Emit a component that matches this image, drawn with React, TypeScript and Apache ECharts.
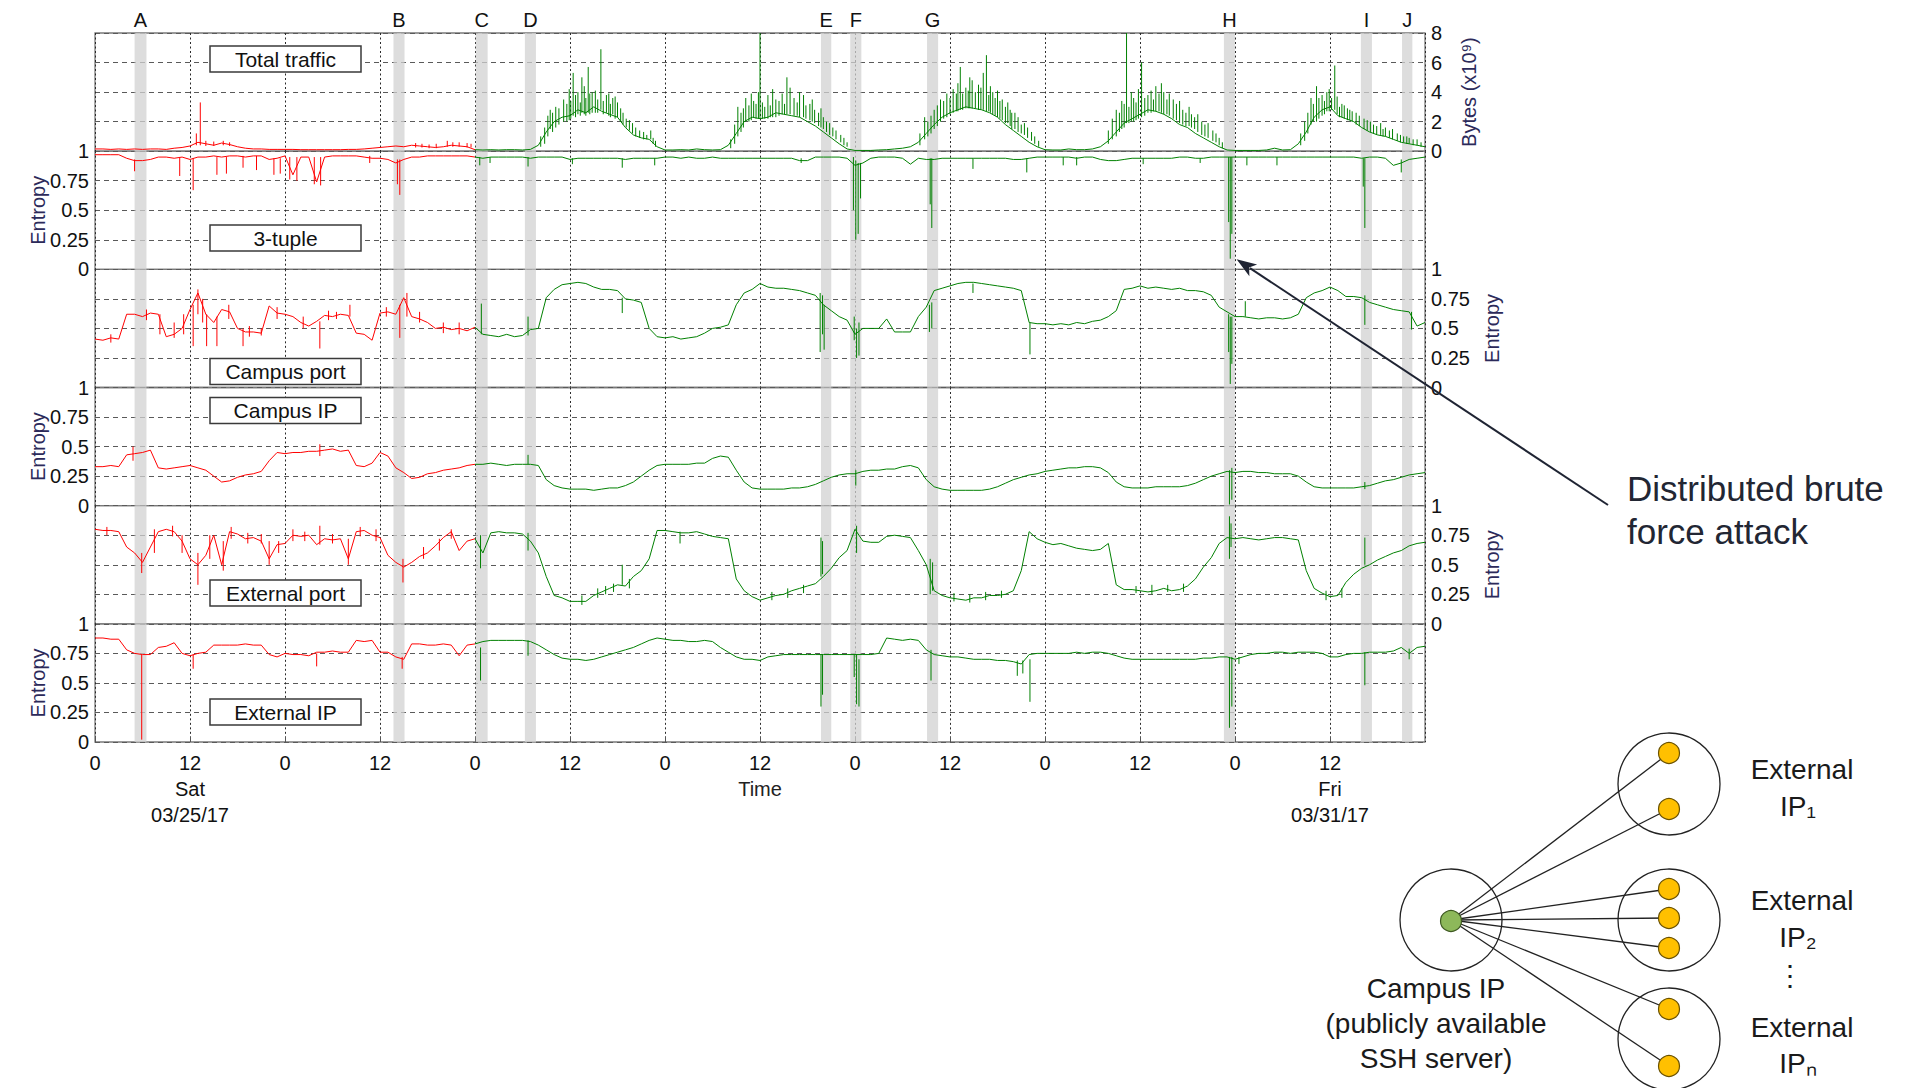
import React, { useEffect, useRef } from 'react';
import * as echarts from 'echarts';

const FONT = "'Liberation Sans', Arial, Helvetica, sans-serif";

// ---- hourly samples, t = 0 .. 168 h (Sat 03/25/17 00:00 onwards) ----
const trafficValues = [
  0.15, 0.15, 0.12, 0.15, 0.12, 0.15, 0.12, 0.15, 0.15, 0.12, 0.2, 0.25,
  0.35, 0.6, 0.5, 0.4, 0.55, 0.45, 0.3, 0.2, 0.15, 0.15, 0.12, 0.12,
  0.12, 0.12, 0.1, 0.1, 0.1, 0.1, 0.1, 0.1, 0.12, 0.12, 0.15, 0.2,
  0.25, 0.3, 0.35, 0.3, 0.4, 0.35, 0.3, 0.25, 0.3, 0.4, 0.35, 0.3,
  0.1, 0.08, 0.1, 0.08, 0.1, 0.1, 0.08, 0.12, 0.4, 1.3, 2.0, 2.3,
  2.4, 2.8, 2.6, 3.0, 2.7, 2.5, 2.3, 1.6, 1.1, 0.9, 0.8, 0.3,
  0.08, 0.08, 0.1, 0.08, 0.15, 0.1, 0.08, 0.1, 0.4, 1.2, 2.0, 2.3,
  2.2, 2.3, 2.6, 2.5, 2.4, 2.3, 2.0, 1.7, 1.3, 0.9, 0.5, 0.15,
  0.05, 0.05, 0.05, 0.08, 0.1, 0.15, 0.2, 0.3, 0.6, 1.2, 1.8, 2.3,
  2.6, 2.8, 3.0, 2.9, 2.8, 2.6, 2.3, 1.8, 1.4, 1.0, 0.6, 0.3,
  0.1, 0.08, 0.08, 0.15, 0.1, 0.1, 0.15, 0.3, 0.7, 1.3, 1.9, 2.2,
  2.5, 2.8, 2.7, 2.5, 2.2, 1.8, 1.6, 1.2, 0.9, 0.6, 0.3, 0.08,
  0.05, 0.05, 0.05, 0.05, 0.08, 0.2, 0.08, 0.1, 0.5, 1.3, 2.3, 2.8,
  3.0, 2.4, 2.2, 2.0, 1.6, 1.3, 1.1, 1.0, 0.8, 0.6, 0.5, 0.4,
  0.3,
];

const tupleValues = [
  0.97, 0.97, 0.97, 0.97, 0.94, 0.92, 0.92, 0.93, 0.95, 0.95, 0.94, 0.95,
  0.93, 0.95, 0.95, 0.96, 0.95, 0.96, 0.96, 0.95, 0.96, 0.96, 0.93, 0.94,
  0.96, 0.8, 0.95, 0.95, 0.74, 0.95, 0.96, 0.96, 0.96, 0.96, 0.95, 0.94,
  0.94, 0.93, 0.9, 0.93, 0.95, 0.95, 0.96, 0.96, 0.96, 0.96, 0.96, 0.96,
  0.95, 0.94, 0.95, 0.95, 0.95, 0.95, 0.95, 0.94, 0.95, 0.95, 0.95, 0.95,
  0.93, 0.94, 0.94, 0.94, 0.94, 0.94, 0.94, 0.93, 0.94, 0.94, 0.94, 0.94,
  0.95, 0.95, 0.94, 0.95, 0.94, 0.94, 0.95, 0.94, 0.94, 0.94, 0.94, 0.94,
  0.94, 0.94, 0.94, 0.94, 0.94, 0.92, 0.92, 0.95, 0.95, 0.95, 0.95, 0.94,
  0.88, 0.9, 0.94, 0.95, 0.95, 0.95, 0.94, 0.89, 0.94, 0.93, 0.93, 0.94,
  0.94, 0.94, 0.94, 0.94, 0.94, 0.94, 0.94, 0.94, 0.93, 0.93, 0.94, 0.95,
  0.95, 0.95, 0.95, 0.95, 0.94, 0.95, 0.95, 0.93, 0.92, 0.92, 0.93, 0.94,
  0.94, 0.94, 0.94, 0.94, 0.94, 0.95, 0.95, 0.94, 0.94, 0.95, 0.95, 0.95,
  0.95, 0.95, 0.95, 0.95, 0.95, 0.95, 0.95, 0.95, 0.95, 0.95, 0.95, 0.95,
  0.95, 0.95, 0.95, 0.95, 0.94, 0.95, 0.95, 0.94, 0.88, 0.9, 0.93, 0.94,
  0.95,
];

const campusPortValues = [
  0.41, 0.4, 0.42, 0.41, 0.62, 0.62, 0.6, 0.63, 0.62, 0.43, 0.45, 0.5,
  0.66, 0.8, 0.62, 0.55, 0.66, 0.64, 0.5, 0.47, 0.47, 0.46, 0.69, 0.63,
  0.62, 0.6, 0.55, 0.52, 0.56, 0.61, 0.6, 0.62, 0.61, 0.46, 0.45, 0.4,
  0.63, 0.64, 0.62, 0.76, 0.6, 0.58, 0.55, 0.5, 0.51, 0.49, 0.5, 0.48,
  0.51, 0.45, 0.44, 0.43, 0.45, 0.43, 0.44, 0.49, 0.5, 0.76, 0.83, 0.87,
  0.88, 0.89, 0.88, 0.85, 0.83, 0.83, 0.82, 0.75, 0.74, 0.72, 0.5, 0.43,
  0.42, 0.43, 0.41, 0.42, 0.43, 0.46, 0.5, 0.51, 0.53, 0.7, 0.8, 0.83,
  0.88, 0.85, 0.84, 0.84, 0.83, 0.82, 0.8, 0.78, 0.7, 0.65, 0.6, 0.57,
  0.45, 0.5, 0.5, 0.5, 0.58, 0.47, 0.47, 0.47, 0.6, 0.68, 0.82, 0.84,
  0.86, 0.88, 0.89, 0.89, 0.88, 0.87, 0.86, 0.85, 0.84, 0.82, 0.55, 0.54,
  0.54, 0.53, 0.54, 0.53, 0.55, 0.54, 0.56, 0.57, 0.6, 0.65, 0.83, 0.84,
  0.86, 0.84, 0.85, 0.84, 0.83, 0.84, 0.82, 0.82, 0.81, 0.78, 0.68, 0.64,
  0.6, 0.6, 0.59, 0.58, 0.59, 0.59, 0.58, 0.59, 0.62, 0.76, 0.8, 0.82,
  0.85, 0.82, 0.77, 0.77, 0.76, 0.72, 0.7, 0.68, 0.66, 0.65, 0.64, 0.52,
  0.55,
];

const campusIpValues = [
  0.33, 0.33, 0.34, 0.33, 0.43, 0.44, 0.45, 0.47, 0.32, 0.31, 0.32, 0.33,
  0.34, 0.32, 0.3, 0.25, 0.2, 0.21, 0.24, 0.26, 0.27, 0.29, 0.38, 0.45,
  0.44, 0.45, 0.45, 0.46, 0.46, 0.47, 0.48, 0.46, 0.47, 0.34, 0.33, 0.36,
  0.45, 0.42, 0.32, 0.28, 0.23, 0.24, 0.27, 0.28, 0.3, 0.31, 0.32, 0.34,
  0.35, 0.35, 0.36, 0.35, 0.34, 0.35, 0.35, 0.35, 0.34, 0.22, 0.17, 0.15,
  0.14, 0.14, 0.14, 0.13, 0.14, 0.15, 0.15, 0.17, 0.2, 0.25, 0.3, 0.34,
  0.35, 0.35, 0.35, 0.35, 0.36, 0.36, 0.4, 0.42, 0.41, 0.3, 0.2, 0.15,
  0.14, 0.14, 0.14, 0.14, 0.15, 0.15, 0.16, 0.18, 0.21, 0.24, 0.26, 0.27,
  0.27, 0.29, 0.3, 0.3, 0.31, 0.31, 0.33, 0.34, 0.32, 0.22, 0.16, 0.14,
  0.13, 0.13, 0.13, 0.13, 0.13, 0.14, 0.16, 0.19, 0.22, 0.24, 0.26, 0.27,
  0.29, 0.3, 0.31, 0.32, 0.32, 0.33, 0.33, 0.32, 0.28, 0.2, 0.16, 0.15,
  0.15, 0.15, 0.16, 0.16, 0.16, 0.16, 0.17, 0.19, 0.22, 0.25, 0.27, 0.29,
  0.28, 0.29, 0.29, 0.28, 0.28, 0.27, 0.27, 0.27, 0.25, 0.2, 0.16, 0.15,
  0.15, 0.15, 0.15, 0.15, 0.16, 0.17, 0.19, 0.21, 0.22, 0.24, 0.26, 0.27,
  0.28,
];

const externalPortValues = [
  0.8, 0.79, 0.79, 0.78, 0.65, 0.6, 0.52, 0.65, 0.78, 0.8, 0.78, 0.7,
  0.55, 0.5, 0.58, 0.75, 0.5, 0.78, 0.76, 0.72, 0.73, 0.7, 0.55, 0.67,
  0.68, 0.75, 0.74, 0.75, 0.67, 0.72, 0.71, 0.72, 0.55, 0.78, 0.79, 0.75,
  0.73, 0.58, 0.52, 0.48, 0.52, 0.57, 0.6, 0.66, 0.73, 0.78, 0.62, 0.7,
  0.72, 0.6, 0.77, 0.78, 0.77, 0.77, 0.76, 0.7, 0.6, 0.4, 0.24, 0.22,
  0.19, 0.19, 0.19, 0.24, 0.27, 0.3, 0.33, 0.32, 0.4, 0.45, 0.55, 0.79,
  0.79, 0.78, 0.77, 0.77, 0.78, 0.76, 0.74, 0.73, 0.72, 0.38, 0.28, 0.23,
  0.2, 0.22, 0.24, 0.25, 0.28, 0.3, 0.32, 0.34, 0.4, 0.47, 0.56, 0.62,
  0.8, 0.7, 0.69, 0.69, 0.74, 0.75, 0.74, 0.73, 0.62, 0.5, 0.28, 0.24,
  0.22, 0.21, 0.2, 0.22, 0.22, 0.24, 0.24, 0.25, 0.28, 0.45, 0.78, 0.72,
  0.69, 0.67, 0.68, 0.66, 0.64, 0.63, 0.62, 0.63, 0.68, 0.33, 0.29, 0.29,
  0.28, 0.27, 0.28, 0.3, 0.28, 0.29, 0.32, 0.38, 0.48, 0.56, 0.68, 0.73,
  0.72, 0.73, 0.72, 0.71, 0.72, 0.73, 0.73, 0.72, 0.71, 0.45, 0.3, 0.26,
  0.23, 0.24, 0.35, 0.42, 0.47, 0.5, 0.54, 0.57, 0.6, 0.62, 0.66, 0.68,
  0.69,
];

const externalIpValues = [
  0.88, 0.88, 0.87, 0.87, 0.78, 0.75, 0.74, 0.74, 0.8, 0.81, 0.84, 0.75,
  0.73, 0.75, 0.76, 0.82, 0.82, 0.82, 0.82, 0.83, 0.82, 0.82, 0.74, 0.72,
  0.75, 0.74, 0.74, 0.73, 0.76, 0.76, 0.77, 0.76, 0.76, 0.86, 0.85, 0.86,
  0.76, 0.76, 0.72, 0.7, 0.83, 0.83, 0.82, 0.82, 0.83, 0.82, 0.73, 0.82,
  0.83, 0.85, 0.86, 0.86, 0.86, 0.86, 0.86, 0.85, 0.82, 0.78, 0.74, 0.71,
  0.7, 0.7, 0.69, 0.7, 0.72, 0.74, 0.76, 0.78, 0.8, 0.83, 0.86, 0.88,
  0.87, 0.86, 0.86, 0.85, 0.85, 0.86, 0.85, 0.8, 0.76, 0.72, 0.7, 0.7,
  0.69, 0.72, 0.73, 0.74, 0.74, 0.74, 0.74, 0.74, 0.74, 0.74, 0.74, 0.74,
  0.74, 0.74, 0.74, 0.75, 0.88, 0.87, 0.86, 0.87, 0.86, 0.78, 0.74, 0.73,
  0.72, 0.72, 0.71, 0.7, 0.7, 0.7, 0.69, 0.69, 0.68, 0.66, 0.74, 0.75,
  0.75, 0.75, 0.75, 0.75, 0.76, 0.75, 0.76, 0.76, 0.75, 0.73, 0.71, 0.7,
  0.7, 0.7, 0.7, 0.7, 0.7, 0.7, 0.7, 0.7, 0.71, 0.71, 0.72, 0.72,
  0.7, 0.72, 0.74, 0.75, 0.75, 0.76, 0.76, 0.75, 0.76, 0.76, 0.76, 0.75,
  0.72, 0.72, 0.74, 0.75, 0.75, 0.76, 0.76, 0.76, 0.77, 0.8, 0.75, 0.8,
  0.81,
];

// ---- short spikes / fluctuations: [hour, low, high] ----
const trafficSpikes = [
  [12.8, 0.4, 1.2], [13.3, 0.4, 3.3], [14.0, 0.35, 0.7], [15.0, 0.35, 0.65], [16.2, 0.4, 0.7], [17.0, 0.35, 0.6],
  [40.5, 0.25, 0.55], [41.3, 0.25, 0.5], [42.2, 0.2, 0.45], [43.1, 0.2, 0.5], [44.5, 0.3, 0.7], [45.2, 0.3, 0.6],
  [46.0, 0.3, 0.6], [47.0, 0.25, 0.55], [47.5, 0.25, 0.5],
  // Mon
  [56.3, 0.3, 1.0], [56.8, 0.5, 1.6], [57.2, 1.0, 2.4], [57.5, 1.5, 2.8], [57.8, 1.3, 2.6], [58.2, 1.6, 3.0],
  [58.6, 1.8, 2.9], [59.2, 2.0, 3.5], [59.6, 2.0, 3.2], [59.9, 2.1, 4.2], [60.1, 2.2, 3.4], [60.4, 2.4, 5.3],
  [60.7, 2.3, 3.8], [61.0, 2.5, 4.0], [61.3, 2.4, 3.3], [61.5, 2.6, 5.0], [61.8, 2.5, 4.4], [62.0, 2.4, 3.6],
  [62.3, 2.6, 5.7], [62.5, 2.5, 3.9], [62.8, 2.6, 4.0], [63.2, 2.6, 4.1], [63.5, 2.6, 3.5], [63.9, 2.8, 6.9],
  [64.2, 2.5, 3.4], [64.6, 2.6, 3.8], [64.9, 2.4, 3.9], [65.1, 2.3, 3.2], [65.4, 2.5, 3.6], [65.7, 2.2, 3.7],
  [66.0, 2.3, 3.3], [66.4, 2.0, 2.9], [66.7, 1.8, 2.6], [67.1, 1.6, 2.2], [67.5, 1.4, 2.1], [67.9, 1.2, 1.9],
  [68.3, 1.0, 1.6], [68.8, 0.9, 1.4], [69.3, 0.8, 1.3], [69.7, 0.8, 1.1], [70.2, 0.8, 1.4], [70.5, 0.5, 0.9],
  [70.8, 0.3, 0.7],
  // Tue
  [80.3, 0.2, 0.8], [80.8, 0.5, 1.8], [81.2, 1.0, 3.0], [81.6, 1.3, 2.6], [81.9, 1.6, 2.9], [82.2, 2.0, 3.6],
  [82.6, 2.0, 3.1], [82.9, 2.1, 3.9], [83.2, 2.3, 3.4], [83.5, 2.2, 3.2], [83.8, 2.2, 4.0], [84.0, 2.2, 8.0],
  [84.3, 2.2, 3.3], [84.6, 2.2, 3.0], [85.0, 2.2, 3.8], [85.3, 2.3, 3.1], [85.6, 2.3, 4.2], [86.0, 2.3, 3.5],
  [86.4, 2.4, 3.4], [86.8, 2.5, 3.9], [87.1, 2.5, 3.2], [87.4, 2.5, 5.0], [87.8, 2.5, 4.3], [88.3, 2.4, 3.6],
  [88.7, 2.4, 3.3], [89.0, 2.3, 4.0], [89.5, 2.3, 3.8], [89.8, 2.2, 3.1], [90.3, 2.1, 3.2], [90.6, 2.0, 3.5],
  [90.9, 1.9, 2.8], [91.4, 1.7, 2.6], [91.7, 1.6, 2.9], [92.0, 1.5, 2.3], [92.4, 1.3, 2.0], [92.8, 1.1, 1.9],
  [93.2, 1.0, 1.6], [93.6, 0.8, 1.4], [94.2, 0.6, 1.1], [94.6, 0.4, 0.9], [95.0, 0.3, 0.6],
  // Wed
  [104.2, 0.4, 1.2], [104.8, 0.8, 2.3], [105.2, 1.0, 2.0], [105.6, 1.2, 2.4], [106.0, 1.5, 2.8], [106.4, 1.7, 3.1],
  [106.8, 2.0, 3.5], [107.2, 2.2, 3.4], [107.6, 2.3, 3.9], [108.0, 2.5, 3.6], [108.4, 2.6, 4.2], [108.8, 2.7, 3.9],
  [109.0, 2.7, 4.6], [109.3, 2.8, 5.7], [109.6, 2.8, 3.9], [110.0, 2.9, 4.3], [110.3, 2.9, 4.1], [110.5, 2.9, 5.0],
  [110.8, 2.9, 4.8], [111.2, 2.9, 4.0], [111.6, 2.8, 4.5], [111.9, 2.8, 4.3], [112.2, 2.8, 5.3], [112.6, 2.7, 6.5],
  [112.9, 2.7, 3.8], [113.1, 2.6, 4.4], [113.4, 2.5, 4.0], [113.7, 2.4, 3.6], [114.0, 2.3, 4.1], [114.3, 2.2, 3.4],
  [114.6, 2.1, 3.5], [115.0, 1.9, 3.0], [115.3, 1.9, 3.3], [115.6, 1.7, 2.8], [115.8, 1.5, 2.6], [116.2, 1.5, 2.6],
  [116.6, 1.3, 2.3], [117.0, 1.2, 1.8], [117.4, 1.1, 1.9], [117.8, 0.9, 1.6], [118.3, 0.7, 1.3], [118.7, 0.5, 1.0],
  [119.2, 0.3, 0.7],
  // Thu
  [128.0, 0.5, 1.4], [128.5, 0.8, 2.2], [129.0, 1.0, 2.8], [129.4, 1.3, 2.6], [129.7, 1.5, 3.4], [130.0, 1.6, 3.2],
  [130.3, 1.9, 8.0], [130.6, 1.9, 3.0], [130.9, 2.0, 4.0], [131.2, 2.0, 3.6], [131.5, 2.1, 3.3], [131.8, 2.2, 4.2],
  [132.2, 2.3, 6.0], [132.6, 2.4, 3.6], [133.0, 2.6, 3.8], [133.4, 2.6, 4.1], [133.7, 2.7, 3.5], [134.0, 2.7, 4.4],
  [134.4, 2.7, 3.9], [134.7, 2.6, 4.6], [135.0, 2.5, 4.0], [135.4, 2.5, 3.5], [135.7, 2.4, 3.9], [136.2, 2.2, 3.5],
  [136.6, 2.1, 3.2], [137.0, 1.9, 3.4], [137.4, 1.8, 2.8], [137.8, 1.7, 2.6], [138.2, 1.7, 3.0], [138.5, 1.6, 2.5],
  [138.9, 1.5, 2.3], [139.3, 1.3, 2.5], [139.8, 1.1, 2.0], [140.2, 1.0, 1.8], [140.6, 0.9, 1.9], [141.2, 0.7, 1.4],
  [141.6, 0.6, 1.2], [142.0, 0.4, 0.9], [142.4, 0.2, 0.6],
  // Fri
  [152.3, 0.4, 1.2], [152.8, 0.7, 2.0], [153.2, 1.2, 2.6], [153.6, 1.8, 3.6], [153.9, 2.0, 3.2], [154.3, 2.0, 4.4],
  [154.6, 2.2, 3.6], [155.0, 2.4, 3.8], [155.3, 2.5, 3.4], [155.6, 2.7, 4.0], [155.9, 2.7, 4.2], [156.2, 2.8, 3.6],
  [156.6, 2.8, 5.8], [156.9, 2.5, 3.7], [157.2, 2.3, 3.0], [157.5, 2.3, 3.2], [157.8, 2.2, 3.1], [158.2, 2.1, 2.9],
  [158.5, 2.1, 2.8], [158.8, 2.0, 2.7], [159.3, 1.8, 2.6], [159.7, 1.7, 2.4], [160.3, 1.5, 2.2], [160.7, 1.4, 2.1],
  [161.1, 1.3, 2.0], [161.5, 1.2, 1.8], [161.9, 1.1, 1.7], [162.4, 1.1, 1.9], [162.7, 1.0, 1.5], [163.0, 1.0, 1.6],
  [163.5, 0.9, 1.4], [163.9, 0.8, 1.5], [164.5, 0.7, 1.2], [164.9, 0.6, 1.1], [165.3, 0.6, 1.0], [165.7, 0.5, 1.0],
  [166.0, 0.5, 0.9], [166.5, 0.4, 0.8], [167.0, 0.4, 0.8], [167.5, 0.3, 0.6],
];

const tupleSpikes = [
  [5.0, 0.83, 0.93], [10.7, 0.79, 0.95], [12.4, 0.67, 0.94], [15.4, 0.8, 0.95], [16.6, 0.81, 0.95], [18.7, 0.86, 0.96],
  [20.4, 0.84, 0.96], [22.6, 0.8, 0.94], [23.4, 0.81, 0.94], [24.6, 0.76, 0.95], [25.5, 0.75, 0.95], [27.7, 0.72, 0.95],
  [28.5, 0.71, 0.95], [34.7, 0.9, 0.96], [38.2, 0.72, 0.93], [38.5, 0.63, 0.93],
  [48.6, 0.88, 0.95], [49.9, 0.9, 0.95], [54.7, 0.87, 0.95], [60.3, 0.89, 0.94], [66.6, 0.86, 0.94], [70.7, 0.88, 0.94],
  [89.2, 0.9, 0.94], [95.8, 0.5, 0.95], [96.1, 0.25, 0.92], [96.4, 0.3, 0.9], [96.7, 0.6, 0.9], [105.5, 0.55, 0.94],
  [105.7, 0.35, 0.94], [110.9, 0.85, 0.94], [117.7, 0.82, 0.94], [122.3, 0.88, 0.95], [124.0, 0.88, 0.95], [132.4, 0.89, 0.94],
  [139.6, 0.9, 0.94], [143.2, 0.4, 0.95], [143.4, 0.09, 0.95], [143.6, 0.3, 0.95], [145.5, 0.88, 0.95], [149.3, 0.88, 0.95],
  [160.2, 0.7, 0.94], [160.4, 0.35, 0.94], [165.0, 0.82, 0.93],
];

const campusPortSpikes = [
  [2.0, 0.38, 0.45], [6.5, 0.57, 0.66], [8.2, 0.45, 0.62], [10.0, 0.42, 0.55], [11.2, 0.45, 0.62], [12.4, 0.35, 0.7],
  [13.0, 0.62, 0.83], [13.6, 0.55, 0.75], [14.1, 0.35, 0.62], [15.4, 0.35, 0.6], [16.9, 0.58, 0.7], [18.7, 0.35, 0.5],
  [19.5, 0.43, 0.52], [21.0, 0.44, 0.5], [23.0, 0.58, 0.68], [26.3, 0.5, 0.6], [28.4, 0.33, 0.56], [29.5, 0.57, 0.65],
  [30.5, 0.58, 0.64], [32.2, 0.6, 0.7], [36.8, 0.6, 0.68], [38.5, 0.42, 0.7], [39.4, 0.6, 0.8], [41.0, 0.55, 0.64],
  [44.0, 0.46, 0.55], [46.0, 0.45, 0.55],
  [48.8, 0.45, 0.71], [54.7, 0.44, 0.6], [66.6, 0.63, 0.76], [91.6, 0.3, 0.8], [91.9, 0.45, 0.78], [92.1, 0.32, 0.7],
  [95.9, 0.4, 0.6], [96.2, 0.25, 0.5], [96.5, 0.27, 0.55], [105.4, 0.47, 0.7], [105.7, 0.5, 0.72], [110.9, 0.8, 0.88],
  [118.1, 0.28, 0.55], [143.2, 0.3, 0.62], [143.4, 0.03, 0.6], [143.6, 0.2, 0.6], [145.3, 0.6, 0.73], [160.4, 0.53, 0.78],
  [166.3, 0.49, 0.64],
];

const campusIpSpikes = [
  [4.8, 0.38, 0.5], [28.4, 0.42, 0.52], [54.7, 0.35, 0.43], [96.1, 0.17, 0.3], [143.3, 0.01, 0.3], [143.6, 0.05, 0.32],
  [160.4, 0.14, 0.2],
];

const externalPortSpikes = [
  [1.5, 0.75, 0.82], [5.9, 0.43, 0.6], [7.5, 0.6, 0.8], [9.8, 0.74, 0.83], [11.0, 0.6, 0.75], [13.0, 0.33, 0.6],
  [14.5, 0.55, 0.75], [16.2, 0.45, 0.7], [17.2, 0.72, 0.82], [19.3, 0.68, 0.77], [21.0, 0.68, 0.76], [22.0, 0.5, 0.7],
  [23.2, 0.6, 0.7], [25.0, 0.7, 0.8], [26.5, 0.7, 0.78], [28.4, 0.67, 0.83], [30.0, 0.68, 0.76], [32.0, 0.5, 0.72],
  [33.5, 0.74, 0.82], [35.5, 0.7, 0.8], [38.9, 0.35, 0.55], [41.5, 0.55, 0.65], [43.5, 0.62, 0.72], [45.0, 0.72, 0.8],
  [48.7, 0.47, 0.75], [54.7, 0.62, 0.77], [61.5, 0.16, 0.24], [63.5, 0.22, 0.3], [64.5, 0.25, 0.32], [65.5, 0.27, 0.34],
  [66.6, 0.33, 0.5], [67.5, 0.3, 0.38], [73.9, 0.68, 0.78], [85.5, 0.2, 0.27], [87.5, 0.22, 0.3], [89.5, 0.26, 0.33],
  [91.7, 0.4, 0.73], [91.9, 0.42, 0.7], [96.2, 0.6, 0.83], [105.5, 0.25, 0.55], [105.8, 0.28, 0.52], [108.5, 0.19, 0.26],
  [110.5, 0.18, 0.25], [112.5, 0.2, 0.27], [114.5, 0.22, 0.28], [131.5, 0.26, 0.32], [133.5, 0.25, 0.33],
  [135.5, 0.27, 0.33], [137.5, 0.27, 0.34], [143.3, 0.55, 0.91], [143.5, 0.65, 0.85], [155.5, 0.2, 0.28],
  [157.5, 0.22, 0.3], [160.4, 0.5, 0.73],
];

const externalIpSpikes = [
  [5.9, 0.02, 0.74], [12.4, 0.62, 0.74], [28.0, 0.64, 0.75], [38.8, 0.62, 0.72],
  [48.7, 0.52, 0.8], [54.7, 0.73, 0.86], [91.7, 0.3, 0.74], [91.9, 0.4, 0.74], [95.9, 0.55, 0.74], [96.2, 0.32, 0.74],
  [96.5, 0.3, 0.7], [105.6, 0.52, 0.78], [116.5, 0.56, 0.69], [117.2, 0.58, 0.69], [118.1, 0.34, 0.7], [143.3, 0.12, 0.72],
  [143.6, 0.3, 0.72], [144.5, 0.66, 0.72], [160.4, 0.48, 0.76], [166.0, 0.7, 0.79],
];

// ---- event bands (hours) ----
const bandNames = ['A', 'B', 'C', 'D', 'E', 'F', 'G', 'H', 'I', 'J'];
const bandStarts = [5.0, 37.7, 48.1, 54.3, 91.7, 95.4, 105.1, 142.6, 159.9, 165.1];
const bandEnds = [6.5, 39.1, 49.6, 55.7, 93.0, 96.8, 106.5, 144.0, 161.3, 166.4];

const panelLabels = ['Total traffic', '3-tuple', 'Campus port', 'Campus IP', 'External port', 'External IP'];
const panelValues = [trafficValues, tupleValues, campusPortValues, campusIpValues, externalPortValues, externalIpValues];
const panelSpikes = [trafficSpikes, tupleSpikes, campusPortSpikes, campusIpSpikes, externalPortSpikes, externalIpSpikes];
const panelMax = [8, 1, 1, 1, 1, 1];
const panelInterval = [2, 0.25, 0.25, 0.25, 0.25, 0.25];
const panelSide = ['right', 'left', 'right', 'left', 'right', 'left'];
const panelAxisName = ['Bytes (x10⁹)', 'Entropy', 'Entropy', 'Entropy', 'Entropy', 'Entropy'];

const dateTicks = [12, 156];
const dateDays = ['Sat', 'Fri'];
const dateStrings = ['03/25/17', '03/31/17'];
const redEnd = 48; // first two days drawn in red

const attackPoint = [144.2, 0.085];
const attackText = ['Distributed brute', 'force attack'];

const RED = '#ff0000';
const GREEN = '#008000';

function baseline(vals: number[], red: boolean) {
  const pts = vals.map((v, i) => [i, v]);
  return red ? pts.filter((p) => p[0] <= redEnd) : pts.filter((p) => p[0] >= redEnd);
}

function spikes(sp: number[][], red: boolean) {
  const out: any[] = [];
  sp.filter((s) => (red ? s[0] < redEnd : s[0] >= redEnd)).forEach((s) => {
    out.push([s[0], s[1]], [s[0], s[2]], [s[0], '-']);
  });
  return out;
}

export default function App() {
  const ref = useRef<HTMLDivElement>(null);

  useEffect(() => {
    if (!ref.current) return;
    const chart = echarts.init(ref.current, null, { renderer: 'svg' });

    const TOP = 33;
    const H = 709 / 6;
    const LEFT = 95;
    const WIDTH = 1330;

    const grids = panelLabels.map((_, i) => ({
      left: LEFT,
      width: WIDTH,
      top: TOP + i * H,
      height: H,
      show: true,
      borderColor: '#7a7a7a',
      borderWidth: 1.3,
      backgroundColor: 'transparent',
    }));

    const xAxes = panelLabels.map((_, i) => ({
      type: 'value',
      gridIndex: i,
      min: 0,
      max: 168,
      interval: 12,
      axisLine: { show: false },
      axisTick: { show: i === 5, inside: true, length: 5, lineStyle: { color: '#555' } },
      axisLabel:
        i === 5
          ? {
              show: true,
              showMaxLabel: false,
              margin: 8,
              fontSize: 20,
              fontFamily: FONT,
              color: '#111',
              lineHeight: 26,
              formatter: (v: number) => {
                const k = dateTicks.indexOf(v);
                const base = v % 24 === 0 ? '0' : '12';
                return k >= 0 ? `${base}\n${dateDays[k]}\n${dateStrings[k]}` : base;
              },
            }
          : { show: false },
      splitLine: { show: true, lineStyle: { color: '#2a2a2a', type: [2, 2.5], width: 1 } },
      name: i === 5 ? 'Time' : '',
      nameLocation: 'middle',
      nameGap: 37,
      nameMoveOverlap: false,
      nameTextStyle: { fontSize: 20, fontFamily: FONT, color: '#222' },
    }));

    const yAxes = panelLabels.map((_, i) => ({
      type: 'value',
      gridIndex: i,
      position: panelSide[i],
      min: 0,
      max: panelMax[i],
      interval: panelInterval[i],
      axisLine: { show: false },
      axisTick: { show: false },
      axisLabel: { margin: 6, fontSize: 20, fontFamily: FONT, color: '#111' },
      splitLine: { show: true, lineStyle: { color: '#5a5a5a', type: [5, 4], width: 1 } },
      name: panelAxisName[i],
      nameLocation: 'middle',
      nameRotate: 90,
      nameGap: i === 0 ? 34 : panelSide[i] === 'left' ? 47 : 57,
      nameMoveOverlap: false,
      nameTextStyle: { fontSize: 20, fontFamily: FONT, color: '#2c2a5a' },
    }));

    const series: any[] = [];
    panelLabels.forEach((_, i) => {
      series.push({
        type: 'line',
        xAxisIndex: i,
        yAxisIndex: i,
        data: [[0, -1]],
        showSymbol: false,
        lineStyle: { width: 0 },
        silent: true,
        z: 1,
        markArea: {
          silent: true,
          itemStyle: { color: '#d2d2d2', opacity: 0.75 },
          label: {
            show: i === 0,
            position: 'top',
            distance: 3,
            fontSize: 20,
            fontFamily: FONT,
            color: '#111',
          },
          data: bandNames.map((n, k) => [
            { xAxis: bandStarts[k], name: i === 0 ? n : '' },
            { xAxis: bandEnds[k] },
          ]),
        },
      });
      [true, false].forEach((red) => {
        const color = red ? RED : GREEN;
        series.push({
          type: 'line',
          xAxisIndex: i,
          yAxisIndex: i,
          data: baseline(panelValues[i], red),
          showSymbol: false,
          lineStyle: { color, width: 1 },
          silent: true,
          z: 3,
        });
        series.push({
          type: 'line',
          xAxisIndex: i,
          yAxisIndex: i,
          data: spikes(panelSpikes[i], red),
          showSymbol: false,
          connectNulls: false,
          lineStyle: { color, width: 1 },
          silent: true,
          z: 3,
        });
      });
    });

    chart.setOption({
      animation: false,
      backgroundColor: '#ffffff',
      grid: grids,
      xAxis: xAxes,
      yAxis: yAxes,
      series,
    });

    // ---- decorations ----
    const boxCenters = [59, 238, 371.5, 410.5, 593, 712];
    const graphic: any[] = [];
    panelLabels.forEach((label, i) => {
      graphic.push({
        type: 'rect',
        shape: { x: 210, y: boxCenters[i] - 13, width: 151, height: 26 },
        style: { fill: '#ffffff', stroke: '#3a3a3a', lineWidth: 1.5 },
        z: 20,
      });
      graphic.push({
        type: 'text',
        x: 285.5,
        y: boxCenters[i],
        style: {
          text: label,
          fontSize: 21,
          fontFamily: FONT,
          fill: '#111',
          align: 'center',
          verticalAlign: 'middle',
          textAlign: 'center',
          textVerticalAlign: 'middle',
        },
        z: 21,
      });
    });

    // arrow to the distributed brute-force event
    const tip = chart.convertToPixel({ xAxisIndex: 1, yAxisIndex: 1 }, attackPoint) as number[];
    const tail = [1608, 505];
    const dx = tip[0] - tail[0];
    const dy = tip[1] - tail[1];
    const len = Math.sqrt(dx * dx + dy * dy);
    const ux = dx / len;
    const uy = dy / len;
    const nx = -uy;
    const ny = ux;
    const headL = 20;
    const headW = 7;
    graphic.push({
      type: 'line',
      shape: { x1: tail[0], y1: tail[1], x2: tip[0] - ux * (headL - 4), y2: tip[1] - uy * (headL - 4) },
      style: { stroke: '#1f2433', lineWidth: 2 },
      z: 30,
    });
    graphic.push({
      type: 'polygon',
      shape: {
        points: [
          [tip[0], tip[1]],
          [tip[0] - ux * headL + nx * headW, tip[1] - uy * headL + ny * headW],
          [tip[0] - ux * (headL - 5), tip[1] - uy * (headL - 5)],
          [tip[0] - ux * headL - nx * headW, tip[1] - uy * headL - ny * headW],
        ],
      },
      style: { fill: '#1f2433' },
      z: 30,
    });
    attackText.forEach((t, k) => {
      graphic.push({
        type: 'text',
        x: 1627,
        y: 488 + k * 43,
        style: {
          text: t,
          fontSize: 35,
          fontFamily: FONT,
          fill: '#222633',
          align: 'left',
          verticalAlign: 'middle',
          textAlign: 'left',
          textVerticalAlign: 'middle',
        },
        z: 30,
      });
    });

    // network sketch
    const campus = [1451, 920];
    const groups = [784, 920, 1039];
    const dots = [753, 809, 889, 918, 948, 1009, 1066];
    graphic.push({
      type: 'circle',
      shape: { cx: campus[0], cy: campus[1], r: 51 },
      style: { fill: 'none', stroke: '#222', lineWidth: 1.3 },
      z: 10,
    });
    groups.forEach((cy) => {
      graphic.push({
        type: 'circle',
        shape: { cx: 1669, cy, r: 51 },
        style: { fill: 'none', stroke: '#222', lineWidth: 1.3 },
        z: 10,
      });
    });
    dots.forEach((cy) => {
      graphic.push({
        type: 'line',
        shape: { x1: campus[0], y1: campus[1], x2: 1669, y2: cy },
        style: { stroke: '#222', lineWidth: 1.3 },
        z: 11,
      });
    });
    dots.forEach((cy) => {
      graphic.push({
        type: 'circle',
        shape: { cx: 1669, cy, r: 10.5 },
        style: { fill: '#ffc000', stroke: '#6b5200', lineWidth: 1.2 },
        z: 12,
      });
    });
    graphic.push({
      type: 'circle',
      shape: { cx: campus[0], cy: campus[1] + 1, r: 10.5 },
      style: { fill: '#8db85a', stroke: '#3f5a22', lineWidth: 1.2 },
      z: 12,
    });
    const diagramTexts: [string, number, number][] = [
      ['External', 1802, 769],
      ['IP₁', 1798, 806],
      ['External', 1802, 900],
      ['IP₂', 1798, 937],
      ['⋮', 1790, 975],
      ['External', 1802, 1027],
      ['IPₙ', 1798, 1063],
      ['Campus IP', 1436, 988],
      ['(publicly available', 1436, 1023],
      ['SSH server)', 1436, 1058],
    ];
    diagramTexts.forEach(([t, x, y]) => {
      graphic.push({
        type: 'text',
        x,
        y,
        style: {
          text: t,
          fontSize: 28,
          fontFamily: FONT,
          fill: '#1a1a1a',
          align: 'center',
          verticalAlign: 'middle',
          textAlign: 'center',
          textVerticalAlign: 'middle',
        },
        z: 13,
      });
    });

    chart.setOption({ graphic });

    return () => chart.dispose();
  }, []);

  return (
    <div
      ref={ref}
      style={{ position: 'absolute', left: 0, top: 0, width: 1907, height: 1088, background: '#fff' }}
    />
  );
}
